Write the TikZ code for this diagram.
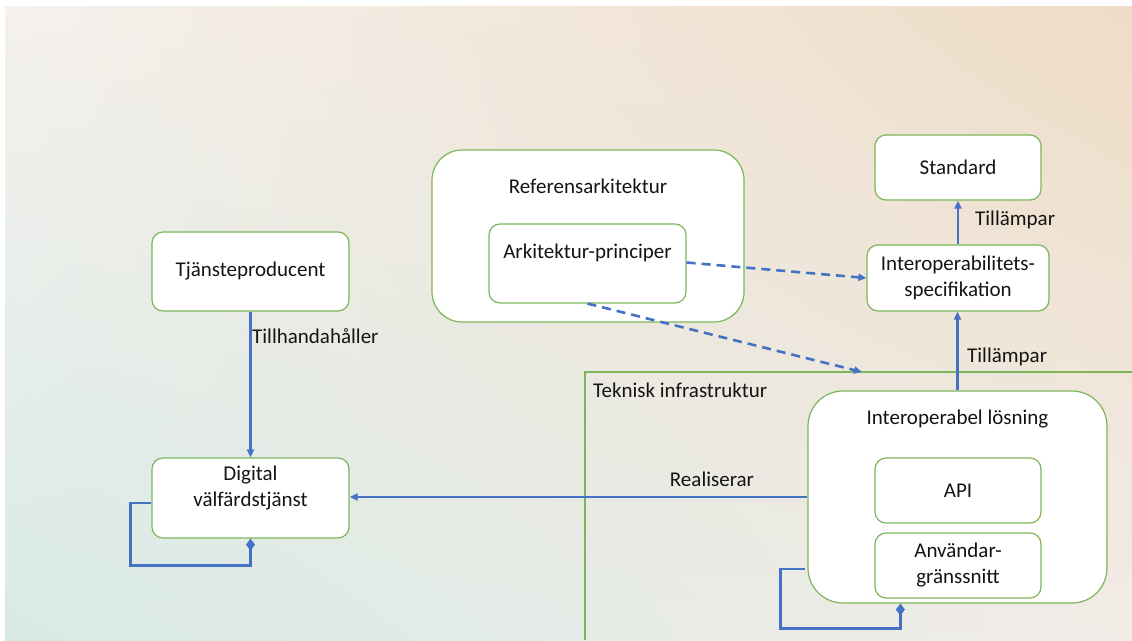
\documentclass[tikz,border=0pt]{standalone}
\usepackage{fontspec}
\setmainfont{Carlito}
\usetikzlibrary{arrows.meta,calc,shadings}

\definecolor{boxgreen}{HTML}{7DB65A}
\definecolor{linkblue}{HTML}{4472C4}
\definecolor{ink}{HTML}{141414}
\definecolor{bgtl}{HTML}{F5F1ED}
\definecolor{bgtr}{HTML}{EEDCC6}
\definecolor{bgbl}{HTML}{D8EAE6}
\definecolor{bgbr}{HTML}{F2ECE7}

\tikzset{
  box/.style={draw=boxgreen, line width=1.2pt, fill=white, rounded corners=11pt, inner sep=0pt},
  txt/.style={font=\fontsize{21}{26}\selectfont, text=ink, align=center, inner sep=0pt},
  link/.style={draw=linkblue, line width=2.2pt, -{Triangle[length=8pt,width=7pt]}},
  dlink/.style={link, line width=2.6pt, dash pattern=on 9pt off 6pt},
  own/.style={draw=linkblue, line width=2.4pt, {Diamond[length=12pt,width=9pt]}-},
}

\begin{document}
\begin{tikzpicture}[x=1pt,y=-1pt]
  \useasboundingbox (0,0) rectangle (1132,640);
  % backdrop
  \fill[white] (0,0) rectangle (1132,640);
  \shade[upper left=bgtl, upper right=bgtr, lower left=bgbl, lower right=bgbr]
    (5,6) rectangle (1132,640);

  % technical infrastructure frame
  \draw[boxgreen, line width=1.2pt] (1132,372) -- (585,372) -- (585,640);
  \coordinate (tiTop) at (862,372);
  \node[txt, anchor=west] (tilbl) at (593,390) {Teknisk infrastruktur};

  % left column
  \node[box, minimum width=197pt, minimum height=79pt] (tp) at (250.5,271.5) {};
  \node[txt] (tptxt) at (tp.center) {Tjänsteproducent};
  \node[box, minimum width=197pt, minimum height=80pt] (dv) at (250.5,498) {};
  \node[txt] (dvtxt) at (250.5,488) {Digital\\välfärdstjänst};

  % reference architecture
  \node[box, rounded corners=30pt, minimum width=312pt, minimum height=172pt] (ra) at (588,236) {};
  \node[txt] (ratxt) at (588,186) {Referensarkitektur};
  \node[box, minimum width=197pt, minimum height=79pt] (ap) at (587.5,263.5) {};
  \node[txt] (aptxt) at (587.5,253) {Arkitektur-principer};

  % standards column
  \node[box, minimum width=166pt, minimum height=65pt] (std) at (958,167.5) {};
  \node[txt] (stdtxt) at (std.center) {Standard};
  \node[box, minimum width=182pt, minimum height=66pt] (is) at (958,278) {};
  \node[txt] (istxt) at (is.center) {Interoperabilitets-\\specifikation};

  % interoperable solution
  \node[box, rounded corners=35pt, minimum width=299pt, minimum height=212pt] (il) at (957.5,497) {};
  \node[txt] (iltxt) at (957.5,419) {Interoperabel lösning};
  \node[box, minimum width=166pt, minimum height=65pt] (api) at (958,490.5) {};
  \node[txt] (apitxt) at (api.center) {API};
  \node[box, minimum width=166pt, minimum height=65pt] (ui) at (958,565.5) {};
  \node[txt] (uitxt) at (ui.center) {Användar-\\gränssnitt};

  % connectors
  \draw[link] (tp.south) -- (dv.north);
  \node[txt, anchor=west] (lblprov) at (252,336) {Tillhandahåller};

  \draw[link] (il.west) -- (il.west -| dv.east);
  \node[txt] (lblreal) at (712,479) {Realiserar};

  \draw[link] (il.north) -- (il.north |- is.south);
  \node[txt, anchor=west] (lblapp1) at (967,357) {Tillämpar};

  \draw[link] (is.north) -- (std.south);
  \node[txt, anchor=west] (lblapp2) at (975,220) {Tillämpar};

  \draw[dlink] ($(ap.east)+(0,-1)$) -- (is.west);
  \draw[dlink] (ap.south) -- (tiTop);

  % self compositions
  \draw[own] (dv.south) |- ($(dv.south west)+(-21,27)$) |- ($(dv.west)+(0,5)$);
  \draw[own] ($(il.south west)+(93,0)$) |- ($(il.south west)+(-27,25)$) |- ($(il.west)+(-2,72)$);
\end{tikzpicture}
\end{document}
